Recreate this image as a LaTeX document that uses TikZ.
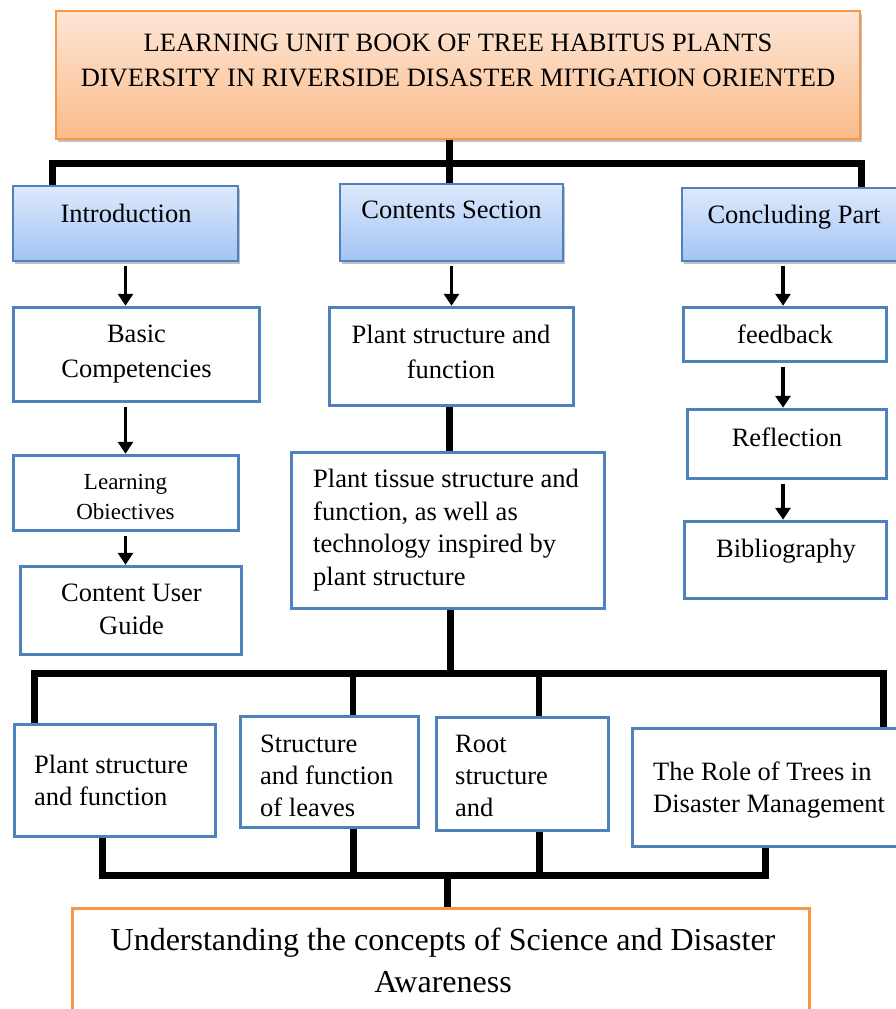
\documentclass[tikz,border=0pt]{standalone}
\usepackage{fontspec}
\setmainfont{Liberation Serif}
\usetikzlibrary{arrows.meta,shadows,calc}
\definecolor{bordblue}{RGB}{79,129,189}
\definecolor{hdtop}{RGB}{221,233,252}
\definecolor{hdbot}{RGB}{163,196,245}
\definecolor{ortop}{RGB}{253,230,214}
\definecolor{orbot}{RGB}{251,188,138}
\definecolor{orbord}{RGB}{247,150,70}
\begin{document}
\begin{tikzpicture}[x=1pt,y=-1pt,
  wbox/.style={draw=bordblue, line width=3.5pt, fill=white, rectangle, inner sep=0},
  hbox/.style={draw=bordblue, line width=2pt, top color=hdtop, bottom color=hdbot, rectangle, inner sep=0,
    drop shadow={shadow xshift=2pt, shadow yshift=-3pt, opacity=0.35, fill=black!70}},
  tbox/.style={draw=orbord, line width=2pt, top color=ortop, bottom color=orbot, rectangle, inner sep=0,
    drop shadow={shadow xshift=2pt, shadow yshift=-3pt, opacity=0.35, fill=black!70}},
  fbox/.style={draw=orbord, line width=3.5pt, fill=white, rectangle, inner sep=0},
  txt/.style={inner sep=0, anchor=north, align=center, font=\fontsize{26.5}{35}\selectfont},
  ltxt/.style={inner sep=0, anchor=north west, align=left, font=\fontsize{26.5}{32.5}\selectfont},
  bar/.style={line width=7pt, black},
  arr/.style={line width=3.5pt, black, shorten <=4pt, -{Triangle[width=15pt,length=12pt]}}
]
\useasboundingbox (0,0) rectangle (896,1009);

% boxes
\node[tbox, minimum width=804pt, minimum height=128pt] (title) at (458,75) {};
\node[hbox, minimum width=225pt, minimum height=75pt] (intro) at (125.5,223.5) {};
\node[hbox, minimum width=223pt, minimum height=77pt] (contents) at (451.5,222.5) {};
\node[hbox, minimum width=237pt, minimum height=73pt] (conc) at (800.5,224.5) {};
\node[wbox, minimum width=246pt, minimum height=94pt] (basic) at (136.5,354.5) {};
\node[wbox, minimum width=225pt, minimum height=75pt] (learn) at (126,493) {};
\node[wbox, minimum width=221pt, minimum height=88pt] (guide) at (131,610.5) {};
\node[wbox, minimum width=244pt, minimum height=98pt] (plant) at (451.5,356.5) {};
\node[wbox, minimum width=313pt, minimum height=156pt] (tissue) at (448,530.5) {};
\node[wbox, minimum width=203pt, minimum height=54pt] (fb) at (785,334.5) {};
\node[wbox, minimum width=199pt, minimum height=69pt] (refl) at (787,444) {};
\node[wbox, minimum width=202pt, minimum height=77pt] (bib) at (785.5,560) {};
\node[wbox, minimum width=201pt, minimum height=112pt] (b1) at (115,780.5) {};
\node[wbox, minimum width=178pt, minimum height=111pt] (b2) at (329.5,772) {};
\node[wbox, minimum width=172pt, minimum height=113pt] (b3) at (522.5,774) {};
\node[wbox, minimum width=286pt, minimum height=118pt] (b4) at (775.5,787.5) {};
\node[fbox, minimum width=737pt, minimum height=120pt] (final) at (441,968.5) {};

% texts
\node[txt] (ttitle) at (458,34) {LEARNING UNIT BOOK OF TREE HABITUS PLANTS\\DIVERSITY IN RIVERSIDE DISASTER MITIGATION ORIENTED};
\node[txt] (tintro) at (126,204) {Introduction};
\node[txt] (tcont) at (451.5,201) {Contents Section};
\node[txt] (tconc) at (794,205) {Concluding Part};
\node[txt] (tbasic) at (136.5,325) {Basic\\Competencies};
\node[txt, font=\fontsize{23}{30}\selectfont] (tlearn) at (125.5,474) {Learning\\Obiectives};
\node[txt, font=\fontsize{26.5}{33}\selectfont] (tguide) at (131.5,584) {Content User\\Guide};
\node[txt] (tplant) at (451,325) {Plant structure and\\function};
\node[ltxt] (ttissue) at (313,469) {Plant tissue structure and\\function, as well as\\technology inspired by\\plant structure};
\node[txt] (tfb) at (785,325) {feedback};
\node[txt] (trefl) at (787,428) {Reflection};
\node[txt] (tbib) at (786,539) {Bibliography};
\node[ltxt, font=\fontsize{26.5}{32}\selectfont] (tb1) at (34,755) {Plant structure\\and function};
\node[ltxt, font=\fontsize{26.5}{32}\selectfont] (tb2) at (260,735) {Structure\\and function\\of leaves};
\node[ltxt, font=\fontsize{26.5}{32}\selectfont] (tb3) at (455,735) {Root\\structure\\and};
\node[ltxt, font=\fontsize{26.5}{32}\selectfont] (tb4) at (653,762) {The Role of Trees in\\Disaster Management};
\node[txt, font=\fontsize{32}{42}\selectfont] (tfinal) at (443,928) {Understanding the concepts of Science and Disaster\\Awareness};

% top connectors
\coordinate (tj) at (449,163);
\coordinate (tl) at (52,163);
\coordinate (tr) at (861,163);
\draw[bar] (tj |- title.south) -- (tj);
\draw[bar] (tl |- intro.north) -- (tl) -- (tr) -- (tr |- conc.north);
\draw[bar] (tj) -- (tj |- contents.north);

% arrows left column
\draw[arr] (intro.south) -- (intro.south |- basic.north);
\draw[arr] (basic.south -| intro.south) -- (learn.north -| intro.south);
\draw[arr] (learn.south -| intro.south) -- (guide.north -| intro.south);
% middle column
\draw[arr] (contents.south) -- (plant.north);
\draw[bar] (plant.south -| tj) -- (tissue.north -| tj);
% right column
\coordinate (rc) at (783,0);
\draw[arr] (conc.south -| rc) -- (fb.north -| rc);
\draw[arr] (fb.south -| rc) -- (refl.north -| rc);
\draw[arr] (refl.south -| rc) -- (bib.north -| rc);

% middle bar
\coordinate (mj) at (450,673);
\coordinate (ml) at (34,673);
\coordinate (mr) at (883,673);
\coordinate (m2) at (353,673);
\coordinate (m3) at (539,673);
\draw[bar] (tissue.south -| mj) -- (mj);
\draw[bar] (ml |- b1.north) -- (ml) -- (mr) -- (mr |- b4.north);
\draw[bar, line width=6pt] (m2) -- (m2 |- b2.north);
\draw[bar, line width=6pt] (m3) -- (m3 |- b3.north);

% lower bar
\coordinate (l1) at (102,875);
\coordinate (l2) at (353,875);
\coordinate (l3) at (539,875);
\coordinate (l4) at (765,875);
\coordinate (lj) at (447,875);
\draw[bar] (l1 |- b1.south) -- (l1) -- (l4) -- (l4 |- b4.south);
\draw[bar] (l2 |- b2.south) -- (l2);
\draw[bar] (l3 |- b3.south) -- (l3);
\draw[bar] (lj) -- (lj |- final.north);
\end{tikzpicture}
\end{document}
